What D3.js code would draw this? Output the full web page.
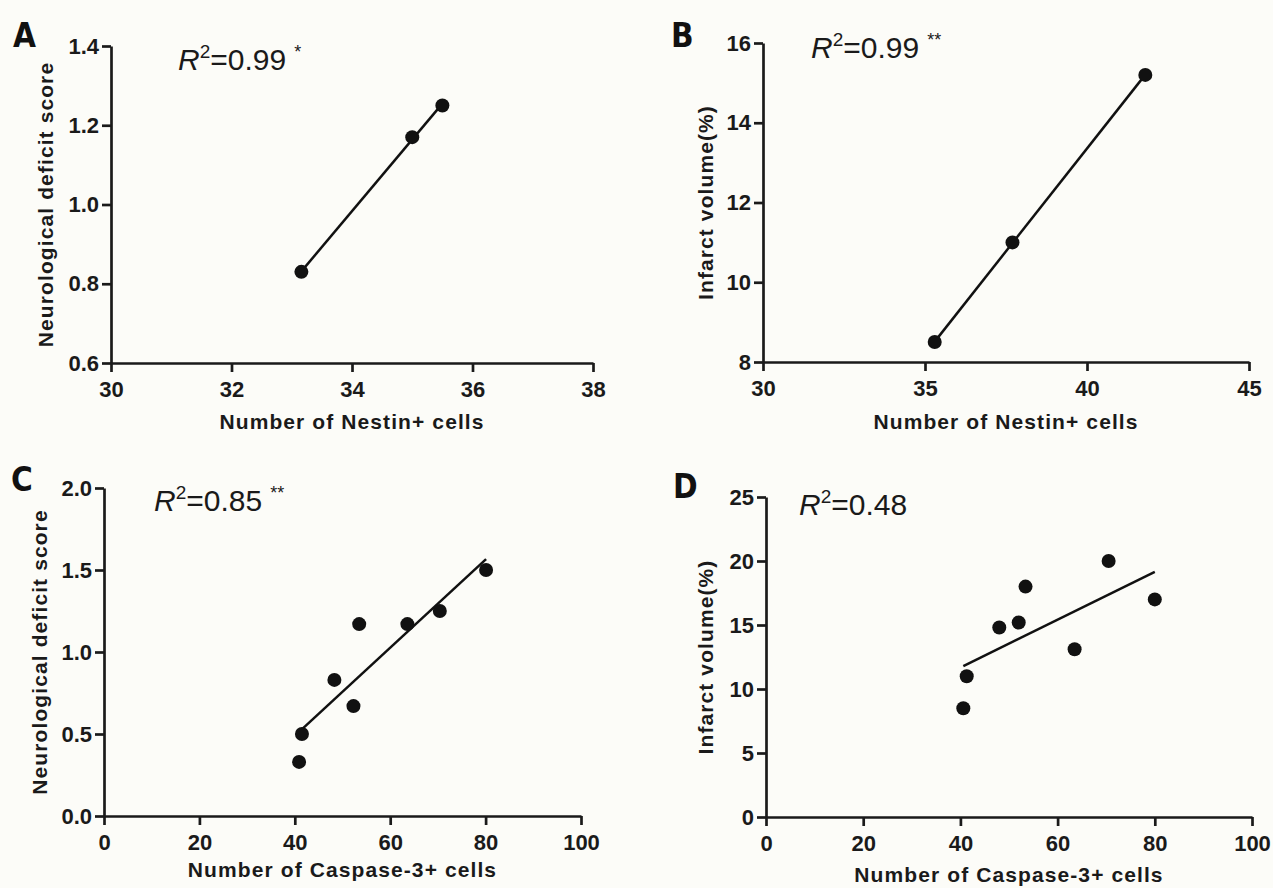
<!DOCTYPE html>
<html>
<head>
<meta charset="utf-8">
<script src="https://cdn.jsdelivr.net/npm/d3@7"></script>
<style>
  html, body { margin: 0; padding: 0; background: #fcfcf8; }
  svg { display: block; }
  .tick text { font-family: "Liberation Sans", Arial, sans-serif; font-weight: bold; font-size: 22px; fill: #1a1a1a; }
  .axis path, .axis line { stroke: #1a1a1a; stroke-width: 2.7; }
  .title { font-family: "Liberation Sans", Arial, sans-serif; font-weight: bold; font-size: 21px; fill: #1a1a1a; letter-spacing: 1.1px; }
  .r2 { font-family: "Liberation Sans", Arial, sans-serif; font-size: 30px; fill: #1a1a1a; }
  .letter { font-family: "Liberation Sans Narrow", "DejaVu Sans Condensed", sans-serif; font-weight: bold; font-size: 33px; fill: #111; }
</style>
</head>
<body>
<div id="chart"></div>
<script>
// Nestin+ cells (panels A, B)
const nestinA = [33.16, 35.0, 35.5];
const deficitA = [0.83, 1.17, 1.25];
const nestinB = [35.3, 37.7, 41.8];
const infarctB = [8.5, 11.0, 15.2];

// Caspase-3+ cells (panels C, D)
const caspaseC = [40.9, 41.5, 48.3, 52.3, 53.5, 63.6, 70.4, 80.1];
const deficitC = [0.33, 0.5, 0.83, 0.67, 1.17, 1.17, 1.25, 1.5];
const caspaseD = [40.6, 41.3, 48.0, 52.0, 53.4, 63.5, 70.5, 80.0];
const infarctD = [8.5, 11.0, 14.8, 15.2, 18.0, 13.1, 20.0, 17.0];

// tick labels
const ticksXA = [30, 32, 34, 36, 38];
const ticksYA = [0.6, 0.8, 1.0, 1.2, 1.4];
const ticksXB = [30, 35, 40, 45];
const ticksYB = [8, 10, 12, 14, 16];
const ticksXC = [0, 20, 40, 60, 80, 100];
const ticksYC = [0.0, 0.5, 1.0, 1.5, 2.0];
const ticksYD = [0, 5, 10, 15, 20, 25];

const width = 1273;
const height = 888;

const svg = d3.select("#chart")
    .append("svg")
    .attr("width", width)
    .attr("height", height);

function fit(xs, ys) {
    const mx = d3.mean(xs), my = d3.mean(ys);
    const sxy = d3.sum(xs, (x, i) => (x - mx) * (ys[i] - my));
    const sxx = d3.sum(xs, x => (x - mx) * (x - mx));
    const slope = sxy / sxx;
    return x => my + slope * (x - mx);
}

function panel(p) {
    const g = svg.append("g");

    const x = d3.scaleLinear().domain(d3.extent(p.xTicks)).range([p.left, p.right]);
    const y = d3.scaleLinear().domain(d3.extent(p.yTicks)).range([p.bottom, p.top]);

    g.append("g")
        .attr("class", "axis")
        .attr("transform", `translate(0,${p.bottom})`)
        .call(d3.axisBottom(x).tickValues(p.xTicks).tickSize(9).tickPadding(9).tickSizeOuter(0).tickFormat(d3.format("d")));

    g.append("g")
        .attr("class", "axis")
        .attr("transform", `translate(${p.left},0)`)
        .call(d3.axisLeft(y).tickValues(p.yTicks).tickSize(9).tickPadding(3).tickSizeOuter(0).tickFormat(d3.format(p.yFormat)));

    // regression line
    const f = fit(p.xs, p.ys);
    const [x0, x1] = d3.extent(p.xs);
    g.append("line")
        .attr("x1", x(x0)).attr("y1", y(f(x0)))
        .attr("x2", x(x1)).attr("y2", y(f(x1)))
        .attr("stroke", "#111")
        .attr("stroke-width", 2.5);

    g.selectAll("circle")
        .data(p.xs)
        .join("circle")
        .attr("cx", d => x(d))
        .attr("cy", (d, i) => y(p.ys[i]))
        .attr("r", 7)
        .attr("fill", "#111");

    g.append("text")
        .attr("class", "title")
        .attr("text-anchor", "middle")
        .attr("x", (p.left + p.right) / 2)
        .attr("y", p.xTitleY)
        .text(p.xTitle);

    g.append("text")
        .attr("class", "title")
        .attr("text-anchor", "middle")
        .attr("transform", `translate(${p.yTitleX},${(p.top + p.bottom) / 2}) rotate(-90)`)
        .attr("dy", "0.36em")
        .text(p.yTitle);

    const r2 = g.append("text")
        .attr("class", "r2")
        .attr("x", p.r2x)
        .attr("y", p.r2y);
    r2.append("tspan").style("font-style", "italic").text("R");
    r2.append("tspan").attr("dy", -12).style("font-size", "19px").text("2");
    r2.append("tspan").attr("dy", 12).text("=" + p.r2);
    if (p.stars) {
        r2.append("tspan").attr("dx", 8).attr("dy", -12).style("font-size", "18px").text(p.stars);
    }

    g.append("text")
        .attr("class", "letter")
        .attr("x", p.letterX)
        .attr("y", p.letterY)
        .text(p.letter);
}

panel({
    letter: "A", letterX: 13, letterY: 47,
    xs: nestinA, ys: deficitA, xTicks: ticksXA, yTicks: ticksYA, yFormat: ".1f",
    left: 111, right: 593, top: 46, bottom: 363,
    xTitle: "Number of Nestin+ cells", xTitleY: 429, yTitle: "Neurological deficit score", yTitleX: 45,
    r2: "0.99", stars: "*", r2x: 178, r2y: 70
});

panel({
    letter: "B", letterX: 671, letterY: 47,
    xs: nestinB, ys: infarctB, xTicks: ticksXB, yTicks: ticksYB, yFormat: "d",
    left: 763, right: 1249, top: 43, bottom: 362,
    xTitle: "Number of Nestin+ cells", xTitleY: 429, yTitle: "Infarct volume(%)", yTitleX: 705,
    r2: "0.99", stars: "**", r2x: 811, r2y: 58
});

panel({
    letter: "C", letterX: 11, letterY: 491,
    xs: caspaseC, ys: deficitC, xTicks: ticksXC, yTicks: ticksYC, yFormat: ".1f",
    left: 104, right: 581, top: 488, bottom: 816,
    xTitle: "Number of Caspase-3+ cells", xTitleY: 877, yTitle: "Neurological deficit score", yTitleX: 39,
    r2: "0.85", stars: "**", r2x: 154, r2y: 511
});

panel({
    letter: "D", letterX: 673, letterY: 498,
    xs: caspaseD, ys: infarctD, xTicks: ticksXC, yTicks: ticksYD, yFormat: "d",
    left: 766, right: 1252, top: 497, bottom: 817,
    xTitle: "Number of Caspase-3+ cells", xTitleY: 882, yTitle: "Infarct volume(%)", yTitleX: 705,
    r2: "0.48", stars: null, r2x: 799, r2y: 515
});
</script>
</body>
</html>
